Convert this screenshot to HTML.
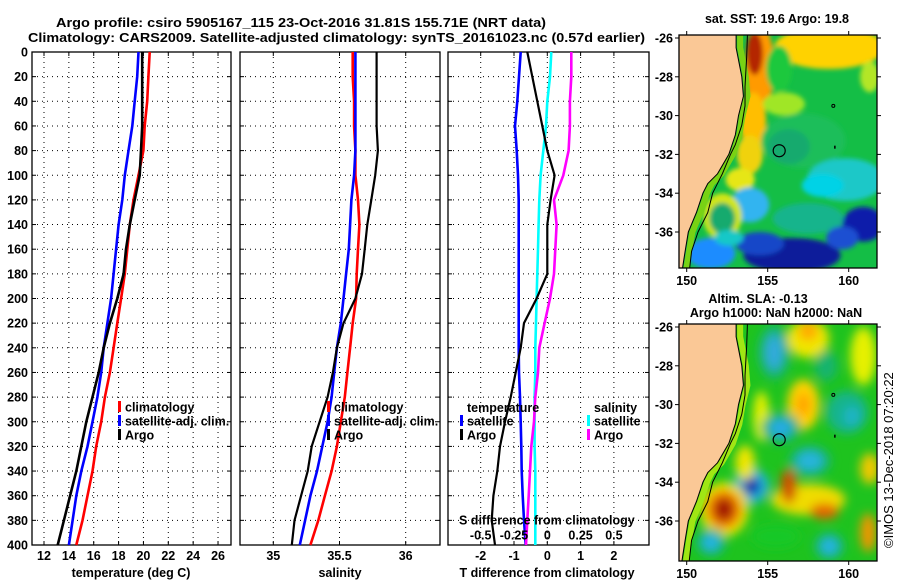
<!DOCTYPE html>
<html><head><meta charset="utf-8"><title>Argo profile</title>
<style>
html,body{margin:0;padding:0;background:#fff;}
svg{display:block;font-family:"Liberation Sans",Arial,sans-serif;}
.t{font-weight:bold;font-size:13px;fill:#000;}
.tk{font-weight:bold;font-size:12.5px;fill:#000;}
</style></head>
<body>
<svg id="fig" width="900" height="580" viewBox="0 0 900 580" xmlns="http://www.w3.org/2000/svg">
<defs>
<filter id="b3" x="-20%" y="-20%" width="140%" height="140%"><feGaussianBlur stdDeviation="2.5"/></filter>
<filter id="b8" x="-20%" y="-20%" width="140%" height="140%"><feGaussianBlur stdDeviation="5"/></filter>
<clipPath id="clipTop"><rect x="679" y="35" width="198" height="233"/></clipPath>
<clipPath id="clipBot"><rect x="679" y="324" width="198" height="237"/></clipPath>
</defs>
<text class="t" x="56" y="27" textLength="490" lengthAdjust="spacingAndGlyphs">Argo profile: csiro 5905167_115 23-Oct-2016 31.81S 155.71E (NRT data)</text>
<text class="t" x="28" y="42" textLength="617" lengthAdjust="spacingAndGlyphs">Climatology: CARS2009. Satellite-adjusted climatology: synTS_20161023.nc (0.57d earlier)</text>
<g id="charts"></g>
<g id="maps"></g>
<text transform="translate(893,548) rotate(-90)" font-size="13" fill="#000">©IMOS 13-Dec-2018 07:20:22</text>
</svg>
<script>
// ---------- profile data ----------
const depths   = [0,20,40,60,80,100,120,140,160,180,200,220,240,260,280,300,320,340,360,380,400];
const tempClim = [20.5,20.4,20.3,20.1,20.0,19.6,19.2,18.9,18.7,18.5,18.2,17.9,17.6,17.3,16.9,16.6,16.2,15.9,15.5,15.1,14.6];
const tempSat  = [19.6,19.5,19.3,19.1,18.8,18.5,18.3,18.0,17.8,17.6,17.4,17.1,16.8,16.6,16.3,15.9,15.5,15.0,14.6,14.3,14.0];
const tempArgo = [19.9,19.9,19.9,19.9,19.8,19.7,19.3,18.9,18.6,18.4,17.9,17.3,16.8,16.4,15.9,15.4,15.0,14.6,14.1,13.6,13.1];
const salClim  = [35.60,35.60,35.61,35.61,35.62,35.62,35.64,35.65,35.64,35.63,35.625,35.60,35.58,35.56,35.54,35.51,35.48,35.44,35.39,35.34,35.28];
const salSat   = [35.62,35.62,35.62,35.62,35.62,35.61,35.59,35.58,35.57,35.55,35.53,35.51,35.48,35.46,35.44,35.41,35.37,35.33,35.28,35.24,35.20];
const salArgo  = [35.78,35.78,35.78,35.78,35.79,35.77,35.74,35.71,35.69,35.67,35.62,35.53,35.48,35.45,35.41,35.35,35.29,35.26,35.21,35.16,35.14];
const dTSat    = [-0.8,-0.85,-0.9,-0.97,-0.92,-0.88,-0.86,-0.86,-0.86,-0.86,-0.86,-0.86,-0.86,-0.85,-0.82,-0.8,-0.78,-0.77,-0.74,-0.7,-0.65];
const dTArgo   = [-0.6,-0.45,-0.3,-0.15,0.0,0.22,0.1,0.0,0.0,0.0,-0.32,-0.7,-0.8,-0.95,-1.1,-1.27,-1.42,-1.5,-1.62,-1.67,-1.57];
const dSSat    = [0.03,0.02,0.0,-0.01,-0.03,-0.05,-0.06,-0.065,-0.07,-0.075,-0.08,-0.085,-0.09,-0.09,-0.095,-0.095,-0.095,-0.09,-0.09,-0.09,-0.09];
const dSArgo   = [0.18,0.18,0.17,0.17,0.16,0.12,0.05,0.07,0.06,0.05,0.02,-0.02,-0.06,-0.07,-0.09,-0.1,-0.12,-0.13,-0.14,-0.15,-0.16];
const depthTicks = [0,20,40,60,80,100,120,140,160,180,200,220,240,260,280,300,320,340,360,380,400];
const tempTicks  = [12,14,16,18,20,22,24,26];
const salTicks   = [35,35.5,36];
const dTTicks    = [-2,-1,0,1,2];
const dSTicks    = [-0.5,-0.25,0,0.25,0.5];
const dSTickLabels = ["-0.5","-0.25","0","0.25","0.5"];

const NS = "http://www.w3.org/2000/svg";
function mk(tag, attrs, parent){
  const e = document.createElementNS(NS, tag);
  for (const k in attrs) e.setAttribute(k, attrs[k]);
  parent.appendChild(e);
  return e;
}
const charts = document.getElementById('charts');
const Y0 = 52, Y1 = 545;
function yD(d){ return Y0 + d*(Y1-Y0)/400; }
function xTemp(t){ return 44 + (t-12)*12.43; }
function xSal(s){ return 273.3 + (s-35)*132.4; }
function xDT(t){ return 547.3 + t*33.3; }
function xDS(s){ return 547.3 + s*133.2; }

const panels = [
  {x0:32, x1:231, name:'temperature-panel'},
  {x0:240, x1:440, name:'salinity-panel'},
  {x0:448, x1:649, name:'difference-panel'}
];

function drawPanel(p, xTicksPx, showDepthLabels){
  const g = mk('g', {}, charts);
  
  
  depthTicks.forEach(d => {
    if (d===0 || d===400) return;
    const l = mk('line', {x1:p.x0, x2:p.x1, y1:yD(d), y2:yD(d), stroke:'#000', 'stroke-width':1, 'stroke-dasharray':'1,4'}, g);
    
    
    mk('line', {x1:p.x0, x2:p.x0+4, y1:yD(d), y2:yD(d), stroke:'#000'}, g);
    mk('line', {x1:p.x1-4, x2:p.x1, y1:yD(d), y2:yD(d), stroke:'#000'}, g);
  });
  xTicksPx.forEach(x => {
    const l = mk('line', {x1:x, x2:x, y1:Y0, y2:Y1, stroke:'#000', 'stroke-width':1, 'stroke-dasharray':'1,4'}, g);
    
    
    mk('line', {x1:x, x2:x, y1:Y1-4, y2:Y1, stroke:'#000'}, g);
    mk('line', {x1:x, x2:x, y1:Y0, y2:Y0+4, stroke:'#000'}, g);
  });
  const r = mk('rect', {x:p.x0, y:Y0, width:p.x1-p.x0, height:Y1-Y0, fill:'none', stroke:'#000', 'stroke-width':1.3}, g);
  
  
  if (showDepthLabels){
    depthTicks.forEach(d => {
      const t = mk('text', {x:28, y:yD(d)+4.5, 'text-anchor':'end', class:'tk'}, charts);
      t.textContent = d;
      
      
    });
  }
  return g;
}
function line(g, xs, fx, color, name, w){
  const pts = depths.map((d,i) => fx(xs[i]).toFixed(1) + ',' + yD(d).toFixed(1)).join(' ');
  const pl = mk('polyline', {points:pts, fill:'none', stroke:color, 'stroke-width':w||2.6, 'stroke-linejoin':'miter'}, g);
  
  
}
function label(txt, x, y, anchor, name, cls){
  const t = mk('text', {x:x, y:y, 'text-anchor':anchor||'middle', class:cls||'tk'}, charts);
  t.textContent = txt;
  
  
  return t;
}
function legendRow(x, y, color, txt, name){
  const m = mk('rect', {x:x, y:y-6, width:3, height:11, fill:color}, charts);
  
  
  label(txt, x+7, y+4.5, 'start', name, 'tk');
}

const g1 = drawPanel(panels[0], tempTicks.map(xTemp), true);
line(g1, tempClim, xTemp, '#ff0000', 'temp-climatology-line');
line(g1, tempSat, xTemp, '#0000ff', 'temp-satellite-line');
line(g1, tempArgo, xTemp, '#000000', 'temp-argo-line');
tempTicks.forEach(t => label(String(t), xTemp(t), 560, 'middle', 'x-tick-label-temp'));
label('temperature (deg C)', 131, 577, 'middle', 'x-axis-title-temperature');
legendRow(118, 407, '#ff0000', 'climatology', 'legend-entry-climatology');
legendRow(118, 421, '#0000ff', 'satellite-adj. clim.', 'legend-entry-satellite');
legendRow(118, 435, '#000000', 'Argo', 'legend-entry-argo');

const g2 = drawPanel(panels[1], salTicks.map(xSal), false);
line(g2, salClim, xSal, '#ff0000', 'sal-climatology-line');
line(g2, salSat, xSal, '#0000ff', 'sal-satellite-line');
line(g2, salArgo, xSal, '#000000', 'sal-argo-line', 2.2);
salTicks.forEach(s => label(String(s), xSal(s), 560, 'middle', 'x-tick-label-sal'));
label('salinity', 340, 577, 'middle', 'x-axis-title-salinity');
legendRow(327, 407, '#ff0000', 'climatology', 'legend-entry-sal-climatology');
legendRow(327, 421, '#0000ff', 'satellite-adj. clim.', 'legend-entry-sal-satellite');
legendRow(327, 435, '#000000', 'Argo', 'legend-entry-sal-argo');

const g3 = drawPanel(panels[2], dTTicks.map(xDT), false);
line(g3, dTSat, xDT, '#0000ff', 'dT-satellite-line');
line(g3, dSSat, xDS, '#00ffff', 'dS-satellite-line');
line(g3, dSArgo, xDS, '#ff00ff', 'dS-argo-line');
line(g3, dTArgo, xDT, '#000000', 'dT-argo-line', 2.2);
dTTicks.forEach(t => label(String(t), xDT(t), 560, 'middle', 'x-tick-label-dT'));
label('T difference from climatology', 547, 577, 'middle', 'x-axis-title-dT');
label('temperature', 467, 412, 'start', 'legend-header-temperature');
label('salinity', 594, 412, 'start', 'legend-header-salinity');
legendRow(460, 421, '#0000ff', 'satellite', 'legend-entry-dT-satellite');
legendRow(460, 435, '#000000', 'Argo', 'legend-entry-dT-argo');
legendRow(587, 421, '#00ffff', 'satellite', 'legend-entry-dS-satellite');
legendRow(587, 435, '#ff00ff', 'Argo', 'legend-entry-dS-argo');
label('S difference from climatology', 459, 524.5, 'start', 'secondary-axis-title-dS');
dSTicks.forEach((s,i) => label(dSTickLabels[i], xDS(s), 539.5, 'middle', 'secondary-tick-label-dS'));

// ---------- maps ----------
const lonTicks = [150,155,160];
const latTicks = [-26,-28,-30,-32,-34,-36];
const coastLon = [153.05,153.05,153.4,153.5,153.2,153.0,152.6,151.9,151.3,151.0,150.6,150.1,149.9,149.7];
const coastLat = [-25.8,-26.5,-28,-29,-30,-31,-32,-33,-33.5,-34,-35,-36,-37,-38.1];
const isoLon = [153.75,153.7,153.6,153.6,153.4,153.0,152.7,152.2,151.6,151.3,150.7,150.3,150.15];
const isoLat = [-25.8,-27,-28.5,-29.5,-30.5,-31.5,-32,-33,-34,-35,-36,-37,-38.1];
const argoLon = 155.71, argoLat = -31.81;
const sstBlobs = [
 [158.8,-26.5,3.4,1.1,'#ffd200'],[161.3,-28.0,0.6,0.8,'#b4e628'],[154.5,-27.5,0.9,2.2,'#ff9a00'],
 [154.2,-26.8,0.5,1.1,'#b42800'],[155.7,-27.6,0.8,1.2,'#1ec83c'],[154.1,-30.3,0.8,1.5,'#ffbe00'],
 [153.9,-32.0,0.8,1.0,'#f0d20a'],[153.3,-33.3,0.9,0.6,'#e6e614'],[156.0,-29.4,1.3,0.6,'#a0e628'],
 [157.2,-31.3,2.6,1.4,'#1ebe5a'],[156.3,-31.6,1.3,0.9,'#14aa6e'],[159.8,-33.3,2.4,1.1,'#1ec8c8'],[158.4,-33.6,1.3,0.6,'#00d2e6'],
 [157.5,-35.3,2.2,0.8,'#14b48c'],[153.9,-34.6,1.2,0.9,'#32b4f0'],[152.2,-35.2,1.2,1.2,'#d2e614'],
 [152.2,-35.3,0.8,0.8,'#14aa6e'],[156.5,-37.2,3.0,0.9,'#0a1e9a'],[154.5,-36.6,1.5,0.6,'#1446c8'],
 [151.5,-37.1,1.5,0.8,'#1e8cff'],[152.6,-36.3,0.9,0.4,'#14c8c8'],[160.9,-35.6,1.3,0.9,'#0a1eaa'],[159.6,-36.3,1.0,0.6,'#1e50d2']
];
const slaBlobs = [
 [154.6,-30.6,0.5,1.3,'#e6f000'],[155.4,-27.3,1.0,1.4,'#14b478'],[155.4,-27.3,0.55,0.9,'#32aadc'],
 [157.5,-26.6,1.3,1.0,'#f0e600'],[157.5,-26.2,0.6,0.5,'#ffaa00'],[157.2,-30.0,1.0,1.3,'#ffd200'],[157.2,-30.0,0.4,0.6,'#ffa000'],
 [155.8,-31.2,1.2,0.8,'#14b478'],[155.8,-31.2,0.7,0.45,'#28aae6'],
 [159.9,-30.4,1.3,1.1,'#14b48c'],[160.2,-30.6,0.5,0.5,'#1eb4c8'],[158.6,-28.0,0.7,0.8,'#14b46e'],
 [160.9,-27.5,0.8,1.5,'#e6f000'],[157.6,-32.9,1.3,0.8,'#14b478'],[157.6,-32.9,0.8,0.5,'#28b4dc'],
 [157.5,-34.9,2.3,0.8,'#f0dc00'],[156.3,-34.2,0.5,0.9,'#d25000'],[158.5,-35.5,0.9,0.4,'#e66400'],
 [154.0,-34.2,1.1,0.9,'#28b4dc'],[154.0,-34.2,0.55,0.45,'#0a28aa'],[153.6,-33.0,0.6,0.9,'#f0e600'],
 [152.3,-35.4,1.5,1.4,'#f0e600'],[152.3,-35.4,1.1,1.0,'#f07800'],[152.3,-35.4,0.6,0.6,'#a00a00'],
 [151.5,-37.1,0.9,0.7,'#14b48c'],[151.5,-37.1,0.5,0.4,'#28b4e6'],[158.8,-37.3,0.9,0.7,'#14b48c'],[158.8,-37.3,0.5,0.4,'#28b4e6'],
 [161.2,-36.6,0.5,1.0,'#f09600'],[161.3,-33.3,0.6,0.8,'#f0c800'],[155.5,-36.8,1.5,0.6,'#14c828']
];
const maps = [
  {name:'sst-map', top:35, bot:268, blobs:sstBlobs, base:'#14be46', filter:'url(#b3)', clip:'url(#clipTop)'},
  {name:'sla-map', top:324, bot:561, blobs:slaBlobs, base:'#1ec31e', filter:'url(#b8)', clip:'url(#clipBot)'}
];
const mapsG = document.getElementById('maps');
const MX0 = 679, MX1 = 877;
function lonX(lon){ return 686.7 + (lon-150)*16.2; }
maps.forEach((m, mi) => {
  const latY = lat => (mi===0 ? 38 : 327) + (-26 - lat)*19.4;
  const g = mk('g', {'clip-path':m.clip}, mapsG);
  
  
  mk('rect', {x:MX0, y:m.top, width:MX1-MX0, height:m.bot-m.top, fill:m.base}, g);
  const bg = mk('g', {filter:m.filter}, g);
  m.blobs.forEach(b => {
    const e = mk('ellipse', {cx:lonX(b[0]), cy:latY(b[1]), rx:b[2]*16.2, ry:b[3]*19.4, fill:b[4]}, bg);
    
    
  });
  const strip = coastLon.map((lo,i)=>lonX(lo+0.25)+','+latY(coastLat[i])).join(' ');
  mk('polyline', {points:strip, fill:'none', stroke: mi===0 ? '#78d214' : '#a0e614', 'stroke-width':6}, g);
  let pts = coastLon.map((lo,i)=>lonX(lo).toFixed(1)+','+latY(coastLat[i]).toFixed(1));
  pts.push(MX0-2+','+(m.bot+2)); pts.push(MX0-2+','+(m.top-2));
  const land = mk('polygon', {points:pts.join(' '), fill:'#fac896', stroke:'#000', 'stroke-width':1}, g);
  
  
  const iso = mk('polyline', {points:isoLon.map((lo,i)=>lonX(lo)+','+latY(isoLat[i])).join(' '), fill:'none', stroke:'#000', 'stroke-width':1}, g);
  
  
  mk('circle', {cx:lonX(159.05), cy:latY(-29.5), r:1.5, fill:'none', stroke:'#000'}, g);
  mk('rect', {x:lonX(159.1), y:latY(-31.55), width:1.5, height:3, fill:'#000'}, g);
  const c = mk('circle', {cx:lonX(argoLon), cy:latY(argoLat), r:6, fill:'none', stroke:'#000', 'stroke-width':1.2}, g);
  
  
  const fr = mk('rect', {x:MX0, y:m.top, width:MX1-MX0, height:m.bot-m.top, fill:'none', stroke:'#000', 'stroke-width':1.3}, mapsG);
  
  
  latTicks.forEach(la => {
    const y = latY(la);
    mk('line', {x1:MX0-4, x2:MX0, y1:y, y2:y, stroke:'#000'}, mapsG);
    mk('line', {x1:MX1, x2:MX1+4, y1:y, y2:y, stroke:'#000'}, mapsG);
    const t = mk('text', {x:673, y:y+4.5, 'text-anchor':'end', class:'tk'}, mapsG);
    t.textContent = la;
    
    
  });
  lonTicks.forEach(lo => {
    const x = lonX(lo);
    mk('line', {x1:x, x2:x, y1:m.top-4, y2:m.top, stroke:'#000'}, mapsG);
    mk('line', {x1:x, x2:x, y1:m.bot, y2:m.bot+4, stroke:'#000'}, mapsG);
    const t = mk('text', {x:x, y:m.bot+17, 'text-anchor':'middle', class:'tk'}, mapsG);
    t.textContent = lo;
    
    
  });
});
function mt(txt, x, y, name){
  const t = mk('text', {x:x, y:y, 'text-anchor':'middle', class:'tk'}, mapsG);
  t.textContent = txt;
  
  
}
mt('sat. SST: 19.6 Argo: 19.8', 777, 23, 'sst-map-title');
mt('Altim. SLA: -0.13', 758, 303, 'sla-map-title');
mt('Argo h1000: NaN h2000: NaN', 776, 317, 'sla-map-subtitle');
</script>
</body></html>
